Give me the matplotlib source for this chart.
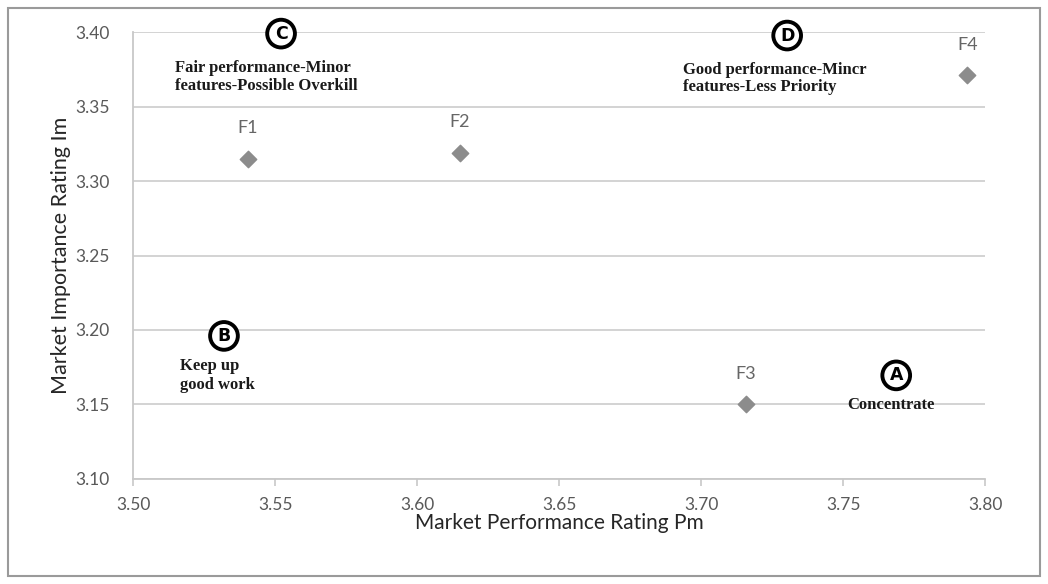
import matplotlib.pyplot as plt
from matplotlib.patches import Rectangle

# performance / importance ratings for each feature
features = ['F1', 'F2', 'F3', 'F4']
perf = [3.5405, 3.6151, 3.7158, 3.7937]
importance = [3.315, 3.319, 3.150, 3.371]

# quadrant notes: letter, circle position, note position, note text
quad_letters = ['C', 'D', 'B', 'A']
quad_circle_x = [3.5521, 3.7303, 3.5320, 3.7687]
quad_circle_y = [3.3990, 3.3977, 3.1960, 3.1695]
quad_text_x = [3.5148, 3.6937, 3.5165, 3.7514]
quad_text_y = [3.3810, 3.3800, 3.1815, 3.1550]
quad_text = ['Fair performance-Minor\nfeatures-Possible Overkill',
             'Good performance-Mincr\nfeatures-Less Priority',
             'Keep up\ngood work',
             'Concentrate']
quad_spacing = [1.12, 1.12, 1.3, 1.0]

grey = '#595959'
fig = plt.figure(figsize=(10.48, 5.84), dpi=100)
ax = fig.add_axes([0.127, 0.180, 0.813, 0.765])

ax.scatter(perf, importance, marker='D', s=70, color='#8c8c8c', zorder=3)
for name, x, y in zip(features, perf, importance):
    ax.annotate(name, (x, y), xytext=(0, 22), textcoords='offset points',
                ha='center', va='center', fontsize=13, color='#666666', family='Lato')

for letter, cx, cy, tx, ty, txt, sp in zip(quad_letters, quad_circle_x, quad_circle_y,
                                            quad_text_x, quad_text_y, quad_text, quad_spacing):
    ax.text(cx, cy, letter, ha='center', va='center', fontsize=12.5, fontweight='bold',
            family='DejaVu Sans', color='black', zorder=4,
            bbox=dict(boxstyle='circle,pad=0.28', fc='white', ec='black', lw=2.8))
    ax.text(tx, ty, txt, ha='left', va='top', fontsize=12, fontweight='bold',
            family='Liberation Serif', color='#1a1a1a', linespacing=sp, zorder=4)

ax.set_xlim(3.50, 3.80)
ax.set_ylim(3.10, 3.40)
ax.set_xticks([3.50, 3.55, 3.60, 3.65, 3.70, 3.75, 3.80])
ax.set_yticks([3.10, 3.15, 3.20, 3.25, 3.30, 3.35, 3.40])
ax.xaxis.set_major_formatter(plt.FormatStrFormatter('%.2f'))
ax.yaxis.set_major_formatter(plt.FormatStrFormatter('%.2f'))
ax.tick_params(axis='both', labelsize=12.5, colors='#c8c8c8', labelcolor=grey)
ax.tick_params(axis='x', length=5, width=1.2, direction='out', pad=8)
ax.tick_params(axis='y', length=0, pad=17)
for lbl in ax.get_xticklabels() + ax.get_yticklabels():
    lbl.set_family('Lato')

ax.grid(axis='y', color='#d0d0d0', lw=1.3)
ax.set_axisbelow(True)
for s in ['top', 'right']:
    ax.spines[s].set_visible(False)
for s in ['left', 'bottom']:
    ax.spines[s].set_color('#c8c8c8')
    ax.spines[s].set_linewidth(1.3)

ax.set_xlabel('Market Performance Rating Pm', fontsize=15, color='#262626',
              family='Lato', labelpad=0)
ax.set_ylabel('Market Importance Rating Im', fontsize=15.5, color='#262626',
              family='Lato', labelpad=3)

# outer chart frame
fig.patches.append(Rectangle((0.008, 0.014), 0.984, 0.973, transform=fig.transFigure,
                             fill=False, ec='#9a9a9a', lw=1.5))

fig.savefig('out.png', dpi=100)
